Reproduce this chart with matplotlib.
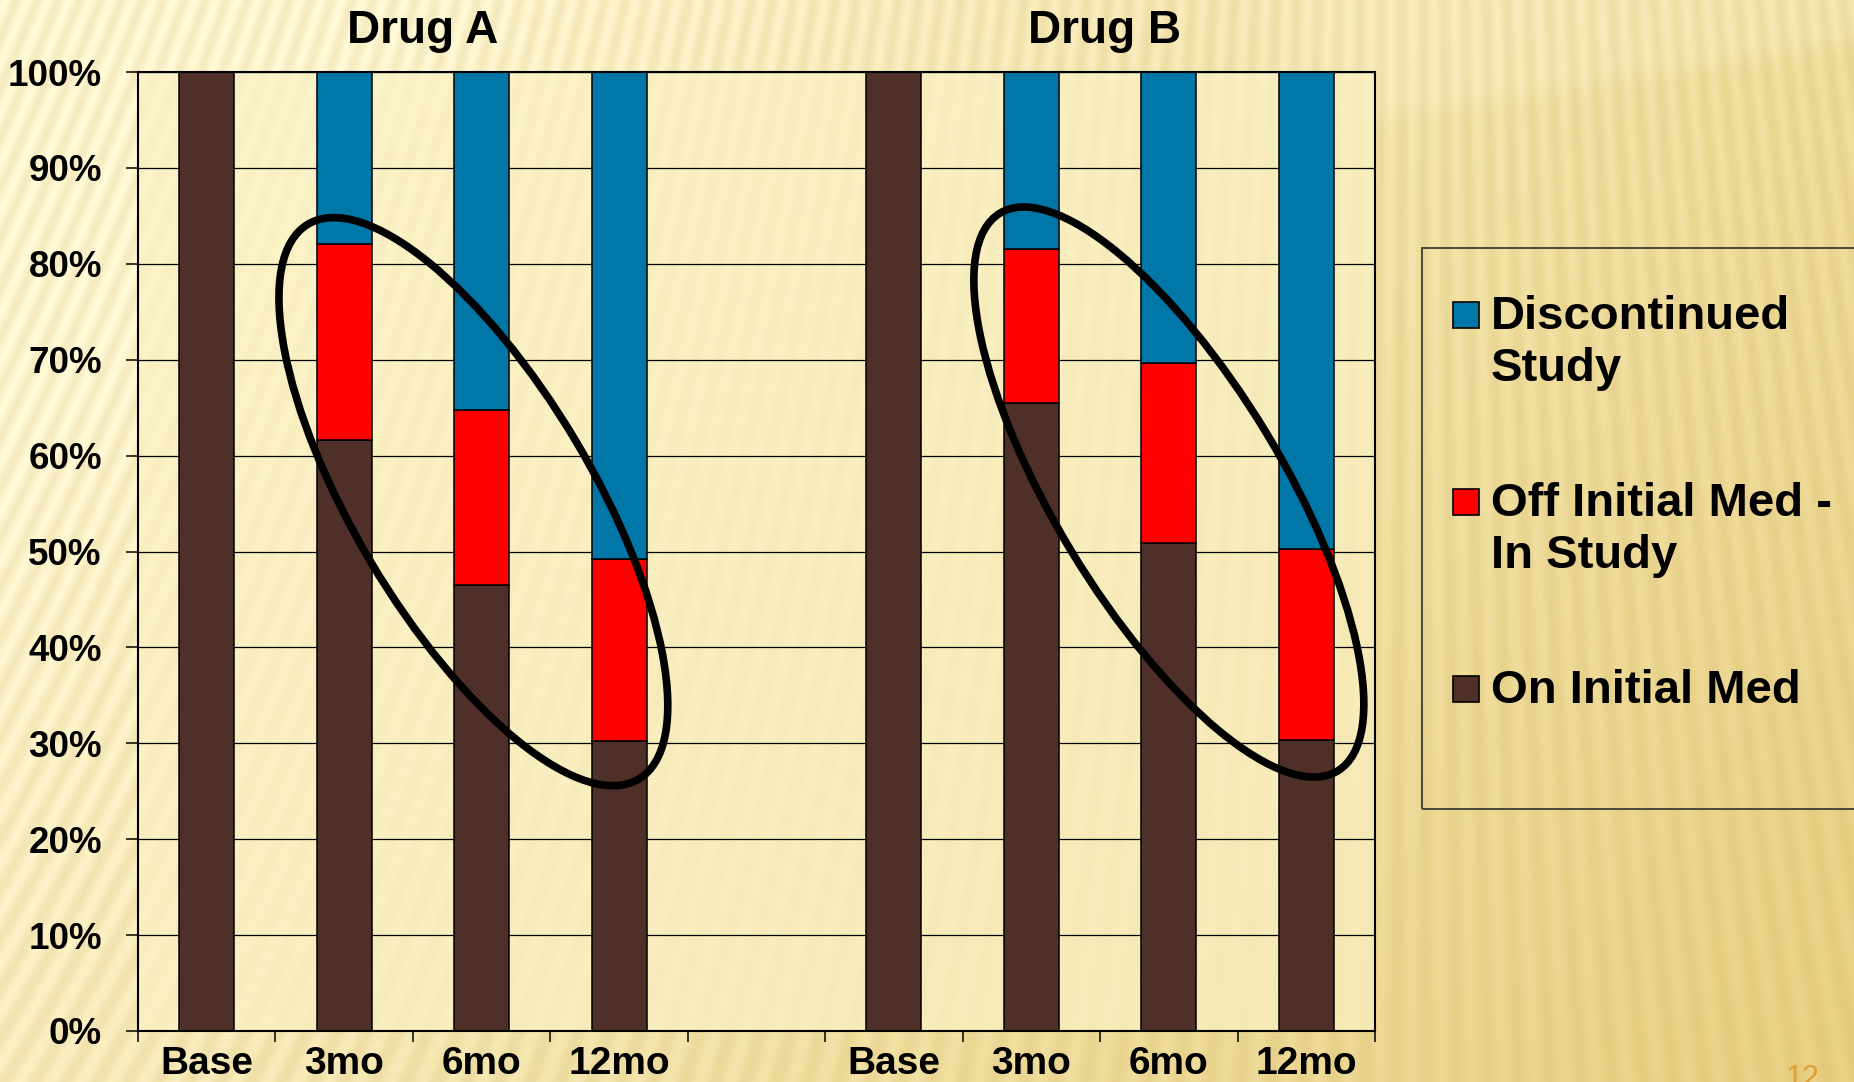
import numpy as np
import matplotlib.pyplot as plt
from matplotlib.patches import Ellipse, Rectangle
from matplotlib.transforms import IdentityTransform, blended_transform_factory

plt.rcParams['font.family'] = ['Liberation Sans', 'DejaVu Sans']
plt.rcParams['font.weight'] = 'bold'

# data (percent of patients)
timepoints = ['Base', '3mo', '6mo', '12mo']
drugs = ['Drug A', 'Drug B']
on_med_a = [100, 61.6, 46.5, 30.2]
off_med_a = [0, 20.5, 18.3, 19.0]
on_med_b = [100, 65.5, 50.9, 30.3]
off_med_b = [0, 16.0, 18.8, 20.0]
series = [['Discontinued', 'Study'], ['Off Initial Med -', 'In Study'], ['On Initial Med']]
colors = ['#0077A6', '#FF0000', '#4F3028']

W, H = 1854, 1082
fig = plt.figure(figsize=(W / 100, H / 100), dpi=100)


def fx(px):
    return px / W


def fy(py):
    return 1 - py / H


# slide background: golden gradient with soft stripes
yy, xx = np.mgrid[0:H, 0:W].astype(float)
xn, yn = xx / W, yy / H
t = np.clip(0.78 * xn + 0.38 * yn - 0.18, 0, 1) ** 0.9
light = np.array([252, 243, 204]) / 255
dark = np.array([229, 205, 126]) / 255
img = light * (1 - t[..., None]) + dark * t[..., None]
# lighter wave in the upper right
edge = 150 - 0.16 * (xx - 1250)
wave = np.clip((edge - yy) / 25, 0, 1) * np.clip((xx - 1200) / 150, 0, 1)
img = img + (light - img) * (0.3 * wave)[..., None]
slant = 0.42 - 0.55 * xn
stripe = np.sin(2 * np.pi * (xx + slant * yy) / 21.0)
img = np.clip(img + (stripe * 0.045 * (0.5 + 0.5 * (1 - t)))[..., None] * np.array([0.5, 0.65, 1.0]), 0, 1)

bg = fig.add_axes([0, 0, 1, 1], zorder=0)
bg.imshow(img, extent=(0, 1, 0, 1), aspect='auto', interpolation='bilinear')
bg.set_axis_off()

ax = fig.add_axes([fx(138), fy(1031), fx(1375 - 138), (1031 - 72) / H], zorder=1)
ax.set_facecolor((250 / 255, 241 / 255, 196 / 255, 0.72))

width = 0.4
groups = [(np.arange(4), on_med_a, off_med_a), (np.arange(4) + 5, on_med_b, off_med_b)]
for x, on, off in groups:
    on = np.array(on)
    off = np.array(off)
    disc = 100 - on - off
    ax.bar(x, on, width, color=colors[2], edgecolor='black', linewidth=1.1, zorder=2)
    ax.bar(x, off, width, bottom=on, color=colors[1], edgecolor='black', linewidth=1.1, zorder=2)
    ax.bar(x, disc, width, bottom=on + off, color=colors[0], edgecolor='black', linewidth=1.1, zorder=2)

ax.set_xlim(-0.5, 8.5)
ax.set_ylim(0, 100)
ax.set_yticks(np.arange(0, 101, 10))
ax.set_yticklabels([f'{v}%' for v in range(0, 101, 10)], fontsize=26.5, fontweight='bold')
ax.set_xticks(list(groups[0][0]) + list(groups[1][0]))
ax.set_xticklabels(timepoints * 2, fontsize=28, fontweight='bold')
ax.set_xticks(np.arange(-0.5, 9, 1), minor=True)
ax.tick_params(axis='x', which='major', length=0, pad=10.5)
ax.tick_params(axis='x', which='minor', length=8, width=1.1, color='black')
ax.tick_params(axis='y', length=8.5, width=1.1, pad=17.5)
ax.yaxis.grid(True, color='black', linewidth=0.9)
ax.set_axisbelow(True)
for s in ax.spines.values():
    s.set_linewidth(1.5)
    s.set_color('black')

# group titles
tr = blended_transform_factory(ax.transData, ax.transAxes)
for xpos, name in zip([1.57, 6.53], drugs):
    ax.text(xpos, 1 + (72 - 43) / 959, name, transform=tr, ha='center', va='baseline',
            fontsize=33, fontweight='bold')

# hand-drawn ellipses around the follow-up bars
for (cx, cy), a, b, ang in [((1.94, 55.2), 323, 119, -59.2), ((7.0, 56.2), 326, 114, -58.8)]:
    px, py = ax.transData.transform((cx, cy))
    e = Ellipse((px, py), 2 * a, 2 * b, angle=ang, transform=IdentityTransform(),
                fill=False, edgecolor='black', linewidth=5.5, zorder=5)
    fig.add_artist(e)

# legend box (runs off the right edge of the slide)
fig.add_artist(Rectangle((fx(1422), fy(809)), 0.3, (809 - 248) / H, transform=fig.transFigure,
                         fill=False, edgecolor='#4B4838', linewidth=1.4, zorder=3))
for i, (lines, c) in enumerate(zip(series, colors)):
    base = 329 + 187 * i
    fig.add_artist(Rectangle((fx(1453), fy(base - 1)), fx(26), 26 / H, transform=fig.transFigure,
                             facecolor=c, edgecolor='black', linewidth=1.2, zorder=4))
    for j, line in enumerate(lines):
        fig.text(fx(1491), fy(base + 52 * j), line, fontsize=34, fontweight='bold',
                 va='baseline', ha='left', zorder=4)

fig.text(fx(1786), fy(1064), '12', fontsize=22, fontweight='normal', color='#E0A035',
         va='top', ha='left')

fig.savefig('out.png', dpi=100)
